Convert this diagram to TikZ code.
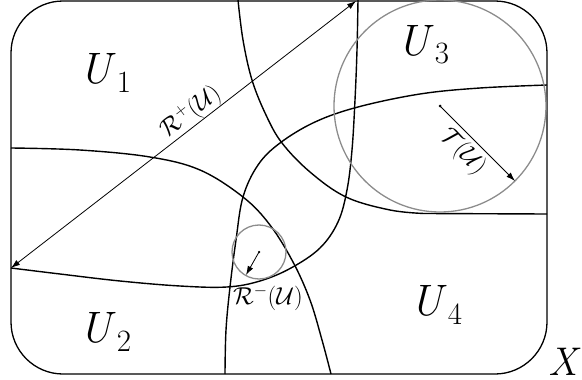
\documentclass[tikz,border=0pt]{standalone}
\usetikzlibrary{arrows.meta}
\newcommand{\regionlabel}[1]{\textit{U}\kern1pt\raisebox{-9pt}{\fontsize{31}{34}\selectfont\upshape #1}}
\begin{document}
\begin{tikzpicture}[x=1pt,y=-1pt,
  region/.style={line width=1.4pt,black},
  frame/.style={line width=1.3pt,black,rounded corners=52pt},
  ball/.style={line width=1.3pt,black!45},
  radius arrow/.style={line width=0.8pt,-{Latex[length=9pt,width=6pt]}},
  both arrow/.style={line width=0.8pt,{Latex[length=9pt,width=6pt]}-{Latex[length=9pt,width=6pt]}},
  dot/.style={circle,fill,inner sep=0pt,minimum size=3pt},
  bigU/.style={anchor=base west,inner sep=0pt,font=\fontsize{44}{50}\selectfont},
  lab/.style={inner sep=0pt,font=\huge,scale=1.18}]
\useasboundingbox (0,0) rectangle (582,380);
% frame
\draw[frame] (11,1) rectangle (547,374);
% curves
\draw[region] plot[smooth,tension=0.6] coordinates {(238,0) (243,40) (252,80) (266,115) (282,143) (310,172) (346,197) (390,210) (424,213.5)} -- (547,214);
\draw[region] plot[smooth,tension=0.6] coordinates {(358,0) (357,50) (355,100) (352,150) (347,190) (338,222) (320,248) (291,268) (260,281) (227,287) (180,286) (120,281) (60,274) (11,268)};
\draw[region] plot[smooth,tension=0.6] coordinates {(11,148) (80,150) (150,157) (200,170) (243,197) (270,225) (293,262) (310,300) (322,340) (331,374)};
\draw[region] plot[smooth,tension=0.6] coordinates {(225,374) (226,330) (230,287) (236,240) (243,197) (258,165) (280,143) (315,122) (358,107) (420,94) (480,88) (547,85)};
% balls
\node[dot] (cT) at (440,106) {};
\draw[ball] (cT) circle[radius=106];
\coordinate (eT) at (515,181);
\draw[radius arrow] (cT.center) -- (eT);
\node[lab,rotate=-47] (lT) at (463,152) {$\mathcal{T}(\mathcal{U})$};
\node[dot,minimum size=2.5pt] (cR) at (259,252) {};
\draw[ball] (cR) circle[radius=27];
\coordinate (eR) at (246,275);
\draw[radius arrow] (cR.center) -- (eR);
\node[lab] (lRm) at (268,298) {$\mathcal{R}^{-}(\mathcal{U})$};
% diameter arrow
\coordinate (pA) at (11,268);
\coordinate (pB) at (356,1);
\draw[both arrow] (pA) -- (pB);
\node[lab,rotate=37.7] (lRp) at (191,112) {$\mathcal{R}^{+}(\mathcal{U})$};
% region labels
\node[bigU] (u1) at (79,83) {\regionlabel{1}};
\node[bigU] (u2) at (79,342) {\regionlabel{2}};
\node[bigU] (u3) at (397,55) {\regionlabel{3}};
\node[bigU] (u4) at (410,315) {\regionlabel{4}};
\node[bigU,font=\fontsize{40}{46}\selectfont\itshape] (x) at (548,375) {X};
\end{tikzpicture}
\end{document}
